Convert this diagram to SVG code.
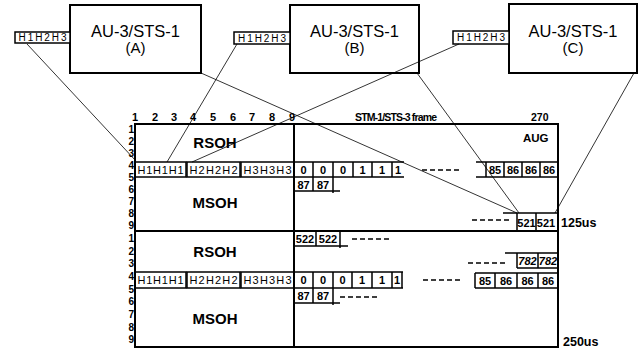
<svg xmlns="http://www.w3.org/2000/svg" width="643" height="349" viewBox="0 0 643 349">
<style>
text{font-family:"Liberation Sans",Arial,sans-serif;fill:#000}
.box{fill:#fff;stroke:#000;stroke-width:2}
.tab{fill:#fff;stroke:#000;stroke-width:1.5}
.frm{fill:none;stroke:#000;stroke-width:2}
.cell{fill:none;stroke:#000;stroke-width:1.5}
.con{fill:none;stroke:#000;stroke-width:0.8}
.dash{fill:none;stroke:#000;stroke-width:1.3;stroke-dasharray:5 3}
.au{font-size:16.5px;text-anchor:middle}
.tt{font-size:10px;text-anchor:middle}
.oh{font-size:15px;text-anchor:middle;font-weight:bold}
.n{font-size:11px;text-anchor:middle;font-weight:bold}
.rl{font-size:10px;text-anchor:end;font-weight:bold}
.cn{font-size:11px;text-anchor:middle;font-weight:bold}
.hc{font-size:11px;text-anchor:middle}
.lb{font-size:11.5px;font-weight:bold}
</style>
<g id="au-a">
<rect class="box" x="70" y="5" width="131" height="68"/>
<text class="au" x="135.5" y="37">AU-3/STS-1</text>
<text class="au" x="135.5" y="53" style="font-size:15px">(A)</text>
<rect class="tab" x="15" y="32" width="55" height="11"/>
<text class="tt" x="42.5" y="41" textLength="48">H1H2H3</text>
</g>
<g id="au-b">
<rect class="box" x="290" y="5" width="129" height="68"/>
<text class="au" x="354.5" y="37">AU-3/STS-1</text>
<text class="au" x="354.5" y="53" style="font-size:15px">(B)</text>
<rect class="tab" x="234" y="32" width="56" height="12"/>
<text class="tt" x="262" y="41.5" textLength="48">H1H2H3</text>
</g>
<g id="au-c">
<rect class="box" x="509" y="4" width="128" height="69"/>
<text class="au" x="573" y="37">AU-3/STS-1</text>
<text class="au" x="573" y="53" style="font-size:15px">(C)</text>
<rect class="tab" x="453" y="31" width="56" height="13"/>
<text class="tt" x="481" y="41" textLength="48">H1H2H3</text>
</g>
<g id="frame">
<text class="cn" x="135" y="121">1</text>
<text class="cn" x="155" y="121">2</text>
<text class="cn" x="174" y="121">3</text>
<text class="cn" x="193" y="121">4</text>
<text class="cn" x="213" y="121">5</text>
<text class="cn" x="233" y="121">6</text>
<text class="cn" x="252" y="121">7</text>
<text class="cn" x="272" y="121">8</text>
<text class="cn" x="292" y="121">9</text>
<text x="355" y="121" style="font-size:10.5px;font-weight:bold" textLength="82">STM-1/STS-3 frame</text>
<text x="531" y="121" style="font-size:10.5px;font-weight:bold">270</text>
<rect class="frm" x="135" y="124" width="423" height="223"/>
<line class="frm" x1="294" y1="124" x2="294" y2="347"/>
<line class="frm" x1="135" y1="231" x2="558" y2="231"/>
<text class="rl" x="134" y="133">1</text>
<text class="rl" x="134" y="145">2</text>
<text class="rl" x="134" y="157">3</text>
<text class="rl" x="134" y="169">4</text>
<text class="rl" x="134" y="181">5</text>
<text class="rl" x="134" y="193">6</text>
<text class="rl" x="134" y="205">7</text>
<text class="rl" x="134" y="217">8</text>
<text class="rl" x="134" y="229">9</text>
<text class="rl" x="134" y="242">1</text>
<text class="rl" x="134" y="255">2</text>
<text class="rl" x="134" y="267">3</text>
<text class="rl" x="134" y="280">4</text>
<text class="rl" x="134" y="293">5</text>
<text class="rl" x="134" y="305">6</text>
<text class="rl" x="134" y="318">7</text>
<text class="rl" x="134" y="331">8</text>
<text class="rl" x="134" y="343">9</text>
<text class="oh" x="215" y="148">RSOH</text>
<text class="oh" x="215" y="208">MSOH</text>
<text class="oh" x="215" y="257">RSOH</text>
<text class="oh" x="215" y="324">MSOH</text>
<text x="523" y="142" class="lb">AUG</text>
<rect class="cell" x="135" y="162" width="51" height="15"/>
<rect class="cell" x="187" y="162" width="53" height="15"/>
<rect class="cell" x="241" y="162" width="53" height="15"/>
<text class="hc" x="160.5" y="174" textLength="46">H1H1H1</text>
<text class="hc" x="213.5" y="174" textLength="48">H2H2H2</text>
<text class="hc" x="267.5" y="174" textLength="48">H3H3H3</text>
<rect class="cell" x="135" y="272" width="51" height="16"/>
<rect class="cell" x="187" y="272" width="53" height="16"/>
<rect class="cell" x="241" y="272" width="53" height="16"/>
<text class="hc" x="160.5" y="284" textLength="46">H1H1H1</text>
<text class="hc" x="213.5" y="284" textLength="48">H2H2H2</text>
<text class="hc" x="267.5" y="284" textLength="48">H3H3H3</text>
<path class="cell" d="M294 162H404M294 177H404M313 162V177M333 162V177M353 162V177M372 162V177M392 162V177"/>
<text class="n" x="303.5" y="174">0</text>
<text class="n" x="323" y="174">0</text>
<text class="n" x="343" y="174">0</text>
<text class="n" x="362.5" y="174">1</text>
<text class="n" x="382" y="174">1</text>
<text class="n" x="398" y="174">1</text>
<path class="cell" d="M294 191H340M313 177V191M333 177V193"/>
<text class="n" x="303.5" y="189">87</text>
<text class="n" x="323" y="189">87</text>
<line class="dash" x1="422" y1="170" x2="462" y2="170"/>
<path class="cell" d="M476 162H558M476 177H558M486 162V177M504 162V177M522 162V177M540 162V177"/>
<text class="n" x="495" y="174">85</text>
<text class="n" x="513" y="174">86</text>
<text class="n" x="531" y="174">86</text>
<text class="n" x="549" y="174">86</text>
<line class="dash" x1="472" y1="220" x2="510" y2="220"/>
<path class="cell" d="M503 213H558M517 213V231M536 213V231"/>
<text class="n" x="526.5" y="227">521</text>
<text class="n" x="546" y="227">521</text>
<text x="561" y="227" class="lb" style="font-size:12.5px">125us</text>
<path class="cell" d="M294 246H348M316 231V246M340 231V248"/>
<text class="n" x="305" y="243">522</text>
<text class="n" x="328" y="243">522</text>
<line class="dash" x1="352" y1="239" x2="390" y2="239"/>
<path class="cell" d="M505 253H558M517 253V268M538 253V268M517 268H558"/>
<text class="n" x="527.5" y="265" style="font-style:italic">782</text>
<text class="n" x="548" y="265" style="font-style:italic">782</text>
<line class="dash" x1="468" y1="263" x2="507" y2="263"/>
<path class="cell" d="M294 272H403M294 288H403M313 272V288M333 272V288M352 272V288M372 272V288M392 272V288M402 272V288"/>
<text class="n" x="303.5" y="284">0</text>
<text class="n" x="323" y="284">0</text>
<text class="n" x="342.5" y="284">0</text>
<text class="n" x="362" y="284">1</text>
<text class="n" x="382" y="284">1</text>
<text class="n" x="397" y="284">1</text>
<line class="dash" x1="423" y1="280" x2="462" y2="280"/>
<path class="cell" d="M475 273H558M475 288H558M475 273V288M495 273V288M517 273V288M538 273V288"/>
<text class="n" x="485" y="285">85</text>
<text class="n" x="506" y="285">86</text>
<text class="n" x="527.5" y="285">86</text>
<text class="n" x="548" y="285">86</text>
<path class="cell" d="M294 303H340M313 288V303M333 288V305"/>
<text class="n" x="303.5" y="300">87</text>
<text class="n" x="323" y="300">87</text>
<line class="dash" x1="340" y1="297" x2="380" y2="297"/>
<text x="563" y="346" class="lb" style="font-size:12.5px">250us</text>
</g>
<g id="connectors">
<line class="con" x1="27" y1="44" x2="136" y2="161"/>
<line class="con" x1="237" y1="44" x2="167" y2="162"/>
<line class="con" x1="459" y1="44" x2="192" y2="162"/>
<line class="con" x1="201" y1="73" x2="517" y2="213"/>
<line class="con" x1="417" y1="73" x2="519" y2="213"/>
<line class="con" x1="634" y1="73" x2="555" y2="213"/>
</g>
</svg>
